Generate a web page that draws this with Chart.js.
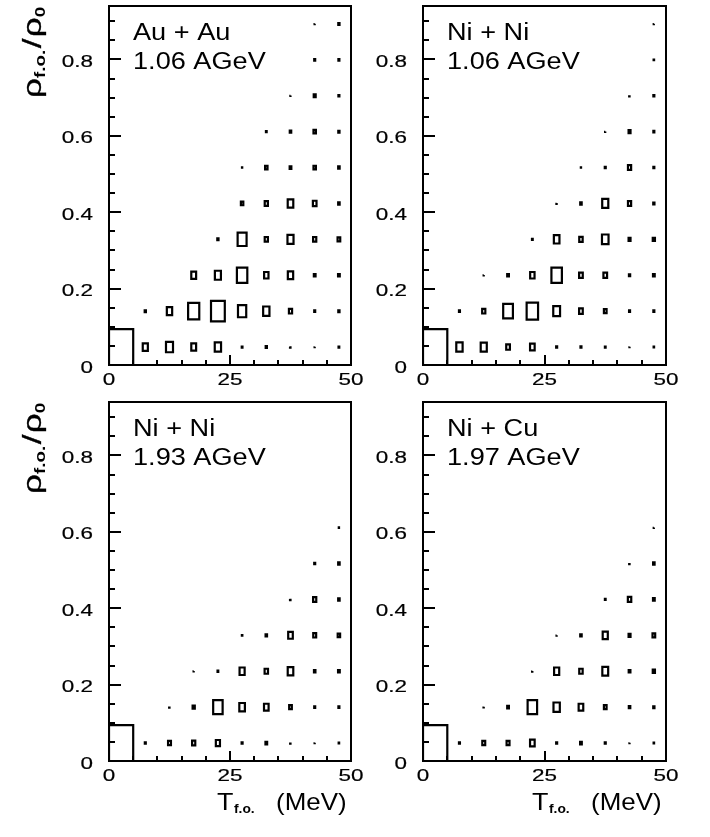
<!DOCTYPE html>
<html>
<head>
<meta charset="utf-8">
<script src="https://cdn.jsdelivr.net/npm/chart.js@4.4.1/dist/chart.umd.min.js"></script>
<style>
  html, body { margin: 0; padding: 0; background: #fff; }
  #page { position: relative; width: 710px; height: 837px; background: #fff; }
  #page canvas { position: absolute; left: 0; top: 0; }
</style>
</head>
<body>
<div id="page">
  <canvas id="auau106" width="710" height="837"></canvas>
  <canvas id="nini106" width="710" height="837"></canvas>
  <canvas id="nini193" width="710" height="837"></canvas>
  <canvas id="nicu197" width="710" height="837"></canvas>
</div>
<script>
// bin centres (T in MeV, rho/rho0) and bin sizes
const xCenters = [2.5, 7.5, 12.5, 17.5, 22.5, 27.5, 32.5, 37.5, 42.5, 47.5];
const yCenters = [0.047, 0.141, 0.235, 0.329, 0.423, 0.517, 0.611, 0.705, 0.799, 0.893];
const binW = 5;
const binH = 0.094;
const xMax = 50;
const yMax = 0.94;
const cellMax = 100;

// tick values / labels
const xMajor = [0, 25, 50];
const xMinor = [5, 10, 15, 20, 30, 35, 40, 45];
const yMajor = [0, 0.2, 0.4, 0.6, 0.8];
const yMinor = [0.05, 0.1, 0.15, 0.25, 0.3, 0.35, 0.45, 0.5, 0.55, 0.65, 0.7, 0.75, 0.85, 0.9];
const xTickLabels = ['0', '25', '50'];
const yTickLabels = ['0', '0.2', '0.4', '0.6', '0.8'];

const systems = ['Au + Au', 'Ni + Ni', 'Ni + Ni', 'Ni + Cu'];
const energies = ['1.06 AGeV', '1.06 AGeV', '1.93 AGeV', '1.97 AGeV'];

// cell contents (relative, rows from rho bin 0 upward, columns T bins)
const auau106 = [
  [100, 21, 29, 20, 26, 3, 5, 4, 1, 3],
  [0, 5, 22, 46, 57, 34, 26, 13, 4, 5],
  [0, 0, 0, 20, 25, 43, 18, 22, 7, 7],
  [0, 0, 0, 0, 5, 37, 13, 25, 13, 11],
  [0, 0, 0, 0, 0, 10, 13, 23, 15, 6],
  [0, 0, 0, 0, 0, 1, 10, 7, 10, 6],
  [0, 0, 0, 0, 0, 0, 3, 6, 10, 5],
  [0, 0, 0, 0, 0, 0, 0, 1, 8, 4],
  [0, 0, 0, 0, 0, 0, 0, 0, 4, 4],
  [0, 0, 0, 0, 0, 0, 0, 0, 1, 5]
];
const nini106 = [
  [100, 26, 25, 15, 19, 4, 4, 3, 1, 2],
  [0, 4, 13, 40, 47, 28, 15, 11, 4, 4],
  [0, 0, 1, 7, 18, 43, 15, 15, 5, 7],
  [0, 0, 0, 0, 3, 23, 14, 27, 8, 9],
  [0, 0, 0, 0, 0, 2, 6, 25, 13, 5],
  [0, 0, 0, 0, 0, 0, 1, 4, 13, 4],
  [0, 0, 0, 0, 0, 0, 0, 1, 8, 4],
  [0, 0, 0, 0, 0, 0, 0, 0, 3, 4],
  [0, 0, 0, 0, 0, 0, 0, 0, 0, 2],
  [0, 0, 0, 0, 0, 0, 0, 0, 0, 1]
];
const nini193 = [
  [100, 4, 12, 13, 17, 4, 7, 3, 1, 2],
  [0, 0, 3, 9, 39, 23, 19, 11, 4, 4],
  [0, 0, 0, 1, 3, 21, 14, 23, 6, 7],
  [0, 0, 0, 0, 0, 2, 6, 19, 12, 10],
  [0, 0, 0, 0, 0, 0, 0, 4, 13, 6],
  [0, 0, 0, 0, 0, 0, 0, 0, 4, 6],
  [0, 0, 0, 0, 0, 0, 0, 0, 0, 1],
  [0, 0, 0, 0, 0, 0, 0, 0, 0, 0],
  [0, 0, 0, 0, 0, 0, 0, 0, 0, 0],
  [0, 0, 0, 0, 0, 0, 0, 0, 0, 0]
];
const nicu197 = [
  [100, 4, 12, 12, 19, 4, 7, 4, 1, 2],
  [0, 0, 2, 7, 39, 26, 19, 11, 6, 5],
  [0, 0, 0, 0, 2, 21, 14, 24, 7, 9],
  [0, 0, 0, 0, 0, 1, 6, 21, 8, 11],
  [0, 0, 0, 0, 0, 0, 0, 3, 14, 7],
  [0, 0, 0, 0, 0, 0, 0, 0, 3, 6],
  [0, 0, 0, 0, 0, 0, 0, 0, 0, 1],
  [0, 0, 0, 0, 0, 0, 0, 0, 0, 0],
  [0, 0, 0, 0, 0, 0, 0, 0, 0, 0],
  [0, 0, 0, 0, 0, 0, 0, 0, 0, 0]
];

const FONT = '"Liberation Sans", Arial, Helvetica, sans-serif';

// page placement of each frame (left, top, right, bottom)
const panels = [
  { id: 'auau106', grid: auau106, area: [109, 6, 351, 365], yTitle: true, xTitle: false },
  { id: 'nini106', grid: nini106, area: [423, 6, 666, 365], yTitle: false, xTitle: false },
  { id: 'nini193', grid: nini193, area: [109, 402, 351, 761], yTitle: true, xTitle: true },
  { id: 'nicu197', grid: nicu197, area: [423, 402, 666, 761], yTitle: false, xTitle: true }
];

// one closed outline per filled cell, NaN points break the line between boxes
function boxOutline(grid) {
  const pts = [];
  grid.forEach((row, r) => {
    row.forEach((v, c) => {
      if (!v) return;
      const hw = binW / 2 * v / cellMax;
      const hh = binH / 2 * v / cellMax;
      const x0 = xCenters[c] - hw, x1 = xCenters[c] + hw;
      const y0 = yCenters[r] - hh, y1 = yCenters[r] + hh;
      pts.push({x: x0, y: y0}, {x: x1, y: y0}, {x: x1, y: y1}, {x: x0, y: y1}, {x: x0, y: y0});
      pts.push({x: NaN, y: NaN});
    });
  });
  return pts;
}

// text a bit wider than the font, optional hairline stroke to thicken it
function stretchText(ctx, str, x, y, sx, align, weight) {
  ctx.save();
  ctx.translate(x, y);
  ctx.scale(sx, 1);
  ctx.textAlign = align || 'left';
  ctx.fillText(str, 0, 0);
  if (weight) {
    ctx.lineWidth = weight;
    ctx.strokeStyle = '#000';
    ctx.strokeText(str, 0, 0);
  }
  ctx.restore();
}

function drawYTitle(ctx, a) {
  ctx.save();
  ctx.translate(41, a.top + 92);
  ctx.rotate(-Math.PI / 2);
  ctx.scale(1.35, 1);
  ctx.textAlign = 'left';
  ctx.lineWidth = 0.3;
  ctx.strokeStyle = '#000';
  let cx = 0;
  ctx.font = '26px ' + FONT;
  ctx.fillText('ρ', cx, 0); ctx.strokeText('ρ', cx, 0);
  cx += ctx.measureText('ρ').width;
  ctx.font = 'bold 14px ' + FONT;
  ctx.fillText('f.o.', cx, 4);
  cx += ctx.measureText('f.o.').width + 1;
  ctx.font = '26px ' + FONT;
  ctx.fillText('/', cx, 0); ctx.strokeText('/', cx, 0);
  cx += ctx.measureText('/').width + 1;
  ctx.fillText('ρ', cx, 0); ctx.strokeText('ρ', cx, 0);
  cx += ctx.measureText('ρ').width;
  ctx.font = 'bold 14px ' + FONT;
  ctx.fillText('0', cx, 4);
  ctx.restore();
}

function drawXTitle(ctx, a) {
  const x0 = a.right - 134;
  const base = a.bottom + 49;
  ctx.font = '24px ' + FONT;
  stretchText(ctx, 'T', x0, base, 1.12);
  ctx.font = 'bold 12px ' + FONT;
  stretchText(ctx, 'f.o.', x0 + 17, base + 3, 1.15);
  ctx.font = '24px ' + FONT;
  stretchText(ctx, '(MeV)', x0 + 59, base, 1.08);
}

const rootFrame = {
  id: 'rootFrame',
  afterDatasetsDraw(chart, args, opts) {
    const {ctx, chartArea: a, scales: {x, y}} = chart;
    ctx.save();
    ctx.strokeStyle = '#000';
    ctx.lineWidth = 2;
    ctx.strokeRect(a.left, a.top, a.right - a.left, a.bottom - a.top);

    // ROOT style ticks, pointing into the frame
    ctx.beginPath();
    yMajor.forEach(v => {
      const py = Math.round(y.getPixelForValue(v));
      ctx.moveTo(a.left, py); ctx.lineTo(a.left + 12, py);
    });
    yMinor.forEach(v => {
      const py = Math.round(y.getPixelForValue(v));
      ctx.moveTo(a.left, py); ctx.lineTo(a.left + 6, py);
    });
    xMajor.forEach(v => {
      const px = Math.round(x.getPixelForValue(v));
      ctx.moveTo(px, a.bottom); ctx.lineTo(px, a.bottom - 10);
    });
    xMinor.forEach(v => {
      const px = Math.round(x.getPixelForValue(v));
      ctx.moveTo(px, a.bottom); ctx.lineTo(px, a.bottom - 5);
    });
    ctx.stroke();
    ctx.restore();
  },
  afterDraw(chart, args, opts) {
    const {ctx, chartArea: a, scales: {x, y}} = chart;
    ctx.save();
    ctx.fillStyle = '#000';
    ctx.textBaseline = 'alphabetic';

    ctx.font = '17px ' + FONT;
    yMajor.forEach((v, i) => {
      stretchText(ctx, yTickLabels[i], a.left - 16, y.getPixelForValue(v) + 7.5, 1.32, 'right', 0.2);
    });
    xMajor.forEach((v, i) => {
      stretchText(ctx, xTickLabels[i], x.getPixelForValue(v), a.bottom + 20, 1.32, 'center', 0.2);
    });

    ctx.font = '23px ' + FONT;
    stretchText(ctx, opts.system, a.left + 24, a.top + 34, 1.18);
    stretchText(ctx, opts.energy, a.left + 24, a.top + 62.5, 1.18);

    if (opts.yTitle) drawYTitle(ctx, a);
    if (opts.xTitle) drawXTitle(ctx, a);
    ctx.restore();
  }
};

panels.forEach((p, i) => {
  const [l, t, r, b] = p.area;
  new Chart(document.getElementById(p.id), {
    type: 'scatter',
    data: {
      datasets: [{
        data: boxOutline(p.grid),
        showLine: true,
        spanGaps: false,
        borderColor: '#000',
        borderWidth: 2.2,
        borderCapStyle: 'square',
        borderJoinStyle: 'miter',
        pointRadius: 0,
        pointHoverRadius: 0,
        tension: 0,
        fill: false
      }]
    },
    options: {
      responsive: false,
      animation: false,
      events: [],
      layout: { padding: { left: l, top: t, right: 710 - r, bottom: 837 - b } },
      plugins: {
        legend: { display: false },
        tooltip: { enabled: false },
        rootFrame: { system: systems[i], energy: energies[i], yTitle: p.yTitle, xTitle: p.xTitle }
      },
      scales: {
        x: { type: 'linear', min: 0, max: xMax, display: false },
        y: { type: 'linear', min: 0, max: yMax, display: false }
      }
    },
    plugins: [rootFrame]
  });
});
</script>
</body>
</html>
